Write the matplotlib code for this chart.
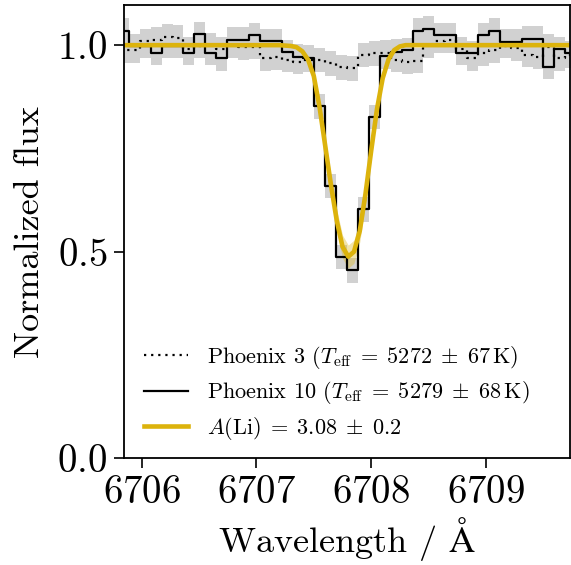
import numpy as np
import matplotlib
matplotlib.use("Agg")
import matplotlib.pyplot as plt

plt.rcParams["font.family"] = ["cmr10", "DejaVu Serif"]
plt.rcParams["mathtext.fontset"] = "cm"
plt.rcParams["axes.formatter.use_mathtext"] = True
plt.rcParams["axes.unicode_minus"] = False

# wavelength grid of the observed spectrum (bin centres, Angstrom)
wave_start = 6705.7475
wave_step = 0.095
n_bins = 44
wave = wave_start + wave_step * np.arange(n_bins)

# Phoenix 10 (solid)
flux_p10 = [
    1.035, 1.035, 0.998, 0.998, 0.981, 0.998, 0.998, 0.981, 1.026, 0.981,
    0.968, 1.013, 1.013, 1.024, 1.010, 1.010, 0.983, 0.972, 0.970, 0.852,
    0.659, 0.487, 0.455, 0.603, 0.826, 0.973, 0.984, 0.988, 1.035, 1.040,
    1.024, 1.024, 0.982, 0.981, 1.024, 1.035, 1.008, 1.008, 1.016, 1.016,
    0.948, 0.990, 0.980, 0.980,
]
# Phoenix 3 (dotted)
flux_p3 = [
    0.988, 0.988, 0.988, 1.010, 1.013, 1.020, 1.018, 0.990, 0.998, 1.000,
    0.990, 1.000, 0.995, 0.996, 0.968, 0.971, 0.964, 0.960, 0.964, 0.964,
    0.956, 0.946, 0.944, 0.976, 0.980, 0.982, 0.964, 0.960, 0.962, 1.000,
    1.010, 1.012, 0.990, 0.968, 0.980, 0.988, 0.998, 0.992, 0.976, 0.972,
    0.996, 0.968, 0.975, 0.975,
]
flux_err = 0.03

# best-fit synthetic Li profile, A(Li) = 3.08 +/- 0.2
model_wave = [
    6705.80, 6707.20, 6707.30, 6707.35, 6707.40, 6707.45, 6707.50, 6707.55,
    6707.60, 6707.65, 6707.70, 6707.75, 6707.80, 6707.85, 6707.90, 6707.95,
    6708.00, 6708.05, 6708.10, 6708.15, 6708.20, 6708.25, 6708.30, 6709.80,
]
model_flux = [
    1.000, 1.000, 0.998, 0.995, 0.985, 0.965, 0.925, 0.850,
    0.755, 0.660, 0.575, 0.512, 0.488, 0.500, 0.550, 0.640,
    0.745, 0.845, 0.920, 0.965, 0.988, 0.997, 1.000, 1.000,
]
model_lo = [
    1.000, 1.000, 0.998, 0.994, 0.983, 0.960, 0.915, 0.835,
    0.735, 0.635, 0.548, 0.484, 0.460, 0.472, 0.523, 0.615,
    0.725, 0.830, 0.910, 0.960, 0.986, 0.996, 1.000, 1.000,
]
model_hi = [
    1.000, 1.000, 0.998, 0.996, 0.987, 0.970, 0.935, 0.865,
    0.775, 0.685, 0.602, 0.540, 0.516, 0.528, 0.577, 0.665,
    0.765, 0.860, 0.930, 0.970, 0.990, 0.998, 1.000, 1.000,
]

label_p3 = r"Phoenix 3 ($T_{\rm eff}\;=\;5272\;\pm\;67\,{\rm K}$)"
label_p10 = r"Phoenix 10 ($T_{\rm eff}\;=\;5279\;\pm\;68\,{\rm K}$)"
label_li = r"$A({\rm Li})\;=\;3.08\;\pm\;0.2$"

yellow = "#dcb30c"

fig = plt.figure(figsize=(5.71, 5.65), dpi=100)
ax = fig.add_axes([0.217, 0.189, 0.781, 0.802])

f3 = np.array(flux_p3)
f10 = np.array(flux_p10)
ax.fill_between(wave, f3 - flux_err, f3 + flux_err, step="mid", color="0.82", lw=0)
ax.fill_between(wave, f10 - flux_err, f10 + flux_err, step="mid", color="0.82", lw=0)
ax.step(wave, flux_p3, where="mid", color="k", ls=(0, (1, 2.2)), lw=1.6, label=label_p3)
ax.step(wave, flux_p10, where="mid", color="k", ls="-", lw=1.6, label=label_p10)
ax.fill_between(model_wave, model_lo, model_hi, color=yellow, alpha=0.35, lw=0)
ax.plot(model_wave, model_flux, color=yellow, lw=3.3, solid_joinstyle="round",
        label=label_li)

ax.set_xlim(6705.846, 6709.73)
ax.set_ylim(0, 1.097)
ax.set_xticks([6706, 6707, 6708, 6709])
ax.set_yticks([0.0, 0.5, 1.0])
ax.tick_params(labelsize=28, length=7, width=1.2, direction="out", pad=5)
for s in ax.spines.values():
    s.set_linewidth(1.3)

ax.set_xlabel(r"Wavelength / $\mathrm{\AA}$", fontsize=26, labelpad=3)
ax.set_ylabel("Normalized flux", fontsize=26, labelpad=8)

ax.legend(loc="lower left", bbox_to_anchor=(0.0, -0.008), frameon=False,
          fontsize=16, handlelength=2.0, handletextpad=0.85, labelspacing=0.38)

fig.savefig("out.png", dpi=100)
